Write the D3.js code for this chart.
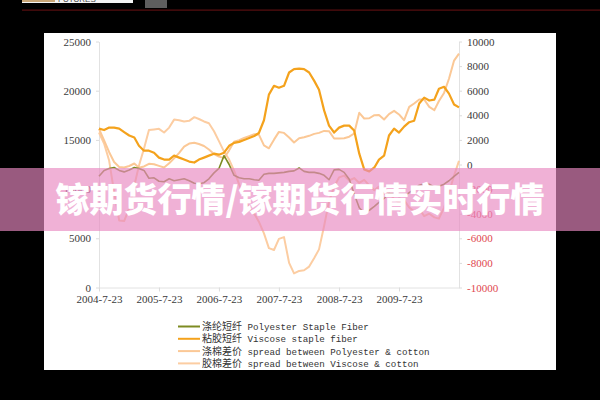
<!DOCTYPE html>
<html>
<head>
<meta charset="utf-8">
<script src="https://cdn.jsdelivr.net/npm/d3@7"></script>
<style>
  body { margin: 0; background: #000; }
  svg { display: block; }
</style>
</head>
<body>
<svg></svg>
<script>
'use strict';

// monthly readings, 2004-7-23 .. 2010-7-23
var START = new Date(2004, 6, 23);
var END = new Date(2010, 6, 23);
var months = d3.range(73).map(function(i){ return d3.timeMonth.offset(START, i); });

// left axis (yuan/ton)
var polyester = [11300,11900,12100,12200,11900,11750,11950,12200,12100,11900,
  11100,11150,10800,10750,11050,10850,10950,11050,10850,10600,
  10550,10650,11050,11650,12100,13400,12500,11400,11150,11050,
  11050,10950,10900,11500,11600,11600,11650,11700,11800,11850,
  12150,11800,11700,11700,11600,11400,10950,11950,12000,11700,
  11000,9500,8100,7600,7850,8250,8650,9050,9550,9550,
  9250,9300,9650,10000,10400,10550,10500,10200,10300,10500,
  10850,11300,11700];
var viscose = [16150,16000,16250,16250,16150,15800,15450,15240,14400,13900,
  13900,13700,13200,13000,13000,13400,13200,13000,12800,12700,
  13000,13200,13400,13600,13500,13700,14400,14700,14800,15000,
  15200,15400,15700,17000,19600,20500,20300,20500,21850,22200,
  22250,22200,21850,21000,20100,18000,16450,15750,16250,16450,
  16450,15950,13600,12000,11800,12200,13000,13400,15450,16150,
  15750,16350,16800,16950,18700,19300,19000,19100,20200,20400,
  19700,18600,18300];
// right axis (spreads)
var spreadPolyCotton = [2900,1950,1000,200,-200,-250,-120,80,-260,-160,
  60,20,-110,-240,100,500,950,1450,1700,1770,
  1670,1500,1220,850,640,530,1150,1850,1980,2160,
  2310,2460,2430,1550,1320,2020,2650,2570,2200,1790,
  2130,2220,2330,2490,2570,2730,2710,2110,2110,2140,
  2260,2520,4200,3740,3760,4010,4030,3660,4100,4360,
  4070,3600,4690,4960,5280,5280,4680,4420,5160,5820,
  6970,8450,9020];
var spreadViscoseCotton = [2600,1700,300,-2250,-4550,-4600,-3550,-1700,-100,1300,
  2800,2850,2900,2600,3000,3650,3600,3500,3550,3850,
  3700,3500,3350,2700,1900,1050,400,-500,-1610,-2700,
  -3550,-4000,-4650,-5600,-6800,-6950,-6050,-5900,-8000,-8850,
  -8650,-8600,-8300,-7600,-6900,-5000,-3000,-1800,-1050,-900,
  -1300,-1100,-1500,-1250,-1700,-2100,-1800,-2400,-2300,-2800,
  -3100,-2900,-3500,-3800,-3600,-4200,-4000,-4300,-4400,-3500,
  -2300,-900,300];

var leftTicks = [0,5000,10000,15000,20000,25000];
var rightTicks = [-10000,-8000,-6000,-4000,-2000,0,2000,4000,6000,8000,10000];
var xTicks = [0,1,2,3,4,5].map(function(i){ return d3.timeYear.offset(START, i); });

var legendCn = ['涤纶短纤','粘胶短纤','涤棉差价','胶棉差价'];
var legendEn = ['Polyester Staple Fiber','Viscose staple fiber',
  'spread between Polyester & cotton','spread between Viscose & cotton'];
var COLORS = ['#7d8b22','#f4a21c','#fbc896','#fccda2'];
var WIDTHS = [1.6,2.2,2,2];

var svg = d3.select('svg').attr('width', 600).attr('height', 400);

// page header bits
svg.append('rect').attr('x',22).attr('y',0).attr('width',111).attr('height',3).attr('fill','#f4f4f4');
svg.append('rect').attr('x',22).attr('y',0).attr('width',33).attr('height',2).attr('fill','#c9a677');
svg.append('text').text('FUTURES').attr('x',58).attr('y',2)
  .attr('font-family','Liberation Sans').attr('font-size',8).attr('fill','#444');
svg.append('rect').attr('x',145).attr('y',0).attr('width',22).attr('height',8).attr('fill','#5e5e5e');
svg.append('rect').attr('x',22).attr('y',9.5).attr('width',578).attr('height',1.2).attr('fill','#5a0f10');

// white panel
svg.append('rect').attr('x',44).attr('y',33).attr('width',512).attr('height',337).attr('fill','#fff');

var x = d3.scaleTime().domain([START, END]).range([99, 459]);
var yL = d3.scaleLinear().domain([0, 25000]).range([287.5, 41.5]);
var yR = d3.scaleLinear().domain([-10000, 10000]).range([287.5, 41.5]);

var numFont = 'Liberation Serif';
var plain = function(d){ return String(d); };

var gL = svg.append('g').attr('transform','translate(99,0)')
  .call(d3.axisLeft(yL).tickValues(leftTicks).tickFormat(plain).tickSize(3).tickSizeOuter(0).tickPadding(5));
var gR = svg.append('g').attr('transform','translate(459,0)')
  .call(d3.axisRight(yR).tickValues(rightTicks).tickFormat(plain).tickSize(3).tickSizeOuter(0).tickPadding(5));
var gX = svg.append('g').attr('transform','translate(0,287.5)')
  .call(d3.axisBottom(x).tickValues(xTicks).tickSize(4).tickSizeOuter(0).tickPadding(4)
    .tickFormat(function(d){ return d.getFullYear()+'-'+(d.getMonth()+1)+'-'+d.getDate(); }));

[gL, gR, gX].forEach(function(g){
  g.select('.domain').attr('stroke','#e2e2e2');
  g.selectAll('.tick line').attr('stroke','#dcdcdc');
  g.selectAll('.tick text').attr('font-family', numFont).attr('font-size', 11).attr('fill','#3a3a3a');
});
gR.selectAll('.tick text').attr('fill', function(d){ return d < 0 ? '#e0474f' : '#3a3a3a'; });

var series = [
  {vals: polyester, y: yL},
  {vals: viscose, y: yL},
  {vals: spreadPolyCotton, y: yR},
  {vals: spreadViscoseCotton, y: yR}
];
var drawOrder = [3, 2, 0, 1];
drawOrder.forEach(function(k){
  var s = series[k];
  var line = d3.line()
    .x(function(d, i){ return x(months[i]); })
    .y(function(d){ return s.y(d); });
  svg.append('path').datum(s.vals)
    .attr('d', line)
    .attr('fill','none')
    .attr('stroke', COLORS[k])
    .attr('stroke-width', WIDTHS[k])
    .attr('stroke-linejoin','round');
});

// legend
var lg = svg.append('g');
legendCn.forEach(function(cn, i){
  var yy = 326.5 + i * 12.3;
  lg.append('line').attr('x1',178).attr('x2',200).attr('y1',yy).attr('y2',yy)
    .attr('stroke', COLORS[i]).attr('stroke-width', 2);
  var t = lg.append('text').attr('x',202).attr('y',yy+3.6).attr('fill','#333');
  t.append('tspan').text(cn).attr('font-family','Noto Sans CJK SC').attr('font-size',10);
  t.append('tspan').text(' ' + legendEn[i]).attr('font-family','Liberation Mono').attr('font-size',9.2);
});

// watermark banner
svg.append('rect').attr('x',0).attr('y',168).attr('width',600).attr('height',63)
  .attr('fill','rgb(232,136,193)').attr('fill-opacity',0.66);
svg.append('text').text('镓期货行情/镓期货行情实时行情')
  .attr('x',300).attr('y',212).attr('text-anchor','middle')
  .attr('font-family','Noto Sans CJK SC').attr('font-weight',900).attr('font-size',34)
  .attr('fill','#fff');
</script>
</body>
</html>
